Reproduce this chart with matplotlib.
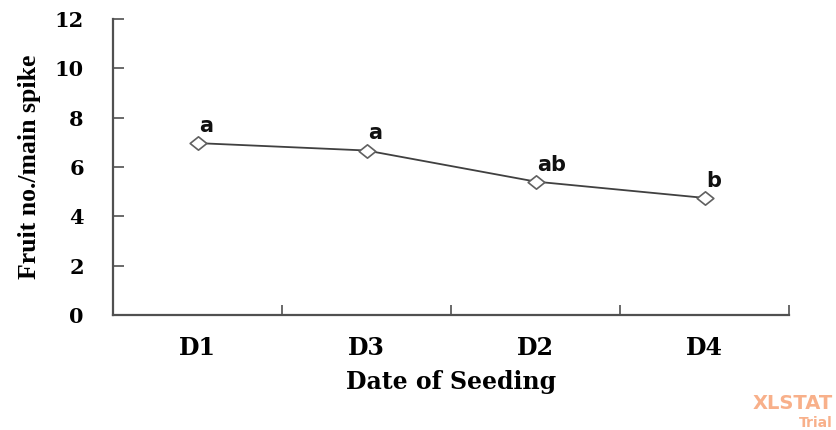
import matplotlib
matplotlib.use("Agg")
import matplotlib.pyplot as plt
from matplotlib.path import Path

categories = ["D1", "D3", "D2", "D4"]
fruit_no = [6.97, 6.67, 5.41, 4.75]
letters = ["a", "a", "ab", "b"]
y_ticks = [0, 2, 4, 6, 8, 10, 12]

serif = ["DejaVu Serif"]

# wide diamond marker (the original is slightly stretched horizontally)
diamond = Path([(-1.25, 0), (0, 1), (1.25, 0), (0, -1), (-1.25, 0)],
               [Path.MOVETO, Path.LINETO, Path.LINETO, Path.LINETO, Path.CLOSEPOLY])

fig = plt.figure(figsize=(8.37, 4.30), dpi=100)
ax = fig.add_axes([0.135, 0.267, 0.808, 0.689])

xs = [i + 0.5 for i in range(len(categories))]
ax.plot(xs, fruit_no, color="#404040", lw=1.3, marker=diamond, markersize=12,
        markerfacecolor="white", markeredgecolor="#606060", markeredgewidth=1.2)

for x, y, lab in zip(xs, fruit_no, letters):
    ax.annotate(lab, (x, y), xytext=(1, 8), textcoords="offset points",
                ha="left", va="baseline",
                fontsize=15, fontweight="bold", family="DejaVu Sans", color="#111111")

ax.set_xlim(0, len(categories))
ax.set_ylim(0, 12)
ax.set_yticks(y_ticks)
ax.set_xticks(range(len(categories) + 1))
ax.set_xticklabels([])
ax.set_xticks(xs, minor=True)
ax.set_xticklabels(categories, minor=True)

for s in ["top", "right"]:
    ax.spines[s].set_visible(False)
for s in ["left", "bottom"]:
    ax.spines[s].set_color("#505050")
    ax.spines[s].set_linewidth(1.6)

ax.tick_params(axis="y", direction="in", length=8, width=1.2, color="#505050", pad=21)
ax.tick_params(axis="x", which="major", direction="in", length=7, width=1.2, color="#505050")
ax.tick_params(axis="x", which="minor", length=0, pad=15)

for lbl in ax.get_yticklabels():
    lbl.set_family(serif)
    lbl.set_fontweight("bold")
    lbl.set_fontsize(15)
for lbl in ax.get_xticklabels(minor=True):
    lbl.set_family(serif)
    lbl.set_fontweight("bold")
    lbl.set_fontsize(17)

ax.set_xlabel("Date of Seeding", family=serif, fontweight="bold", fontsize=17, labelpad=7)
ax.set_ylabel("Fruit no./main spike", family=["Liberation Serif"], fontweight="bold",
              fontsize=18.5, labelpad=10)

fig.text(0.995, 0.049, "XLSTAT", ha="right", va="baseline", color="#f8b08a",
         fontsize=14, fontweight="bold", family="DejaVu Sans")
fig.text(0.995, 0.008, "Trial", ha="right", va="baseline", color="#f8b08a",
         fontsize=10, fontweight="bold", family="DejaVu Sans")

fig.savefig("out.png", dpi=100)
